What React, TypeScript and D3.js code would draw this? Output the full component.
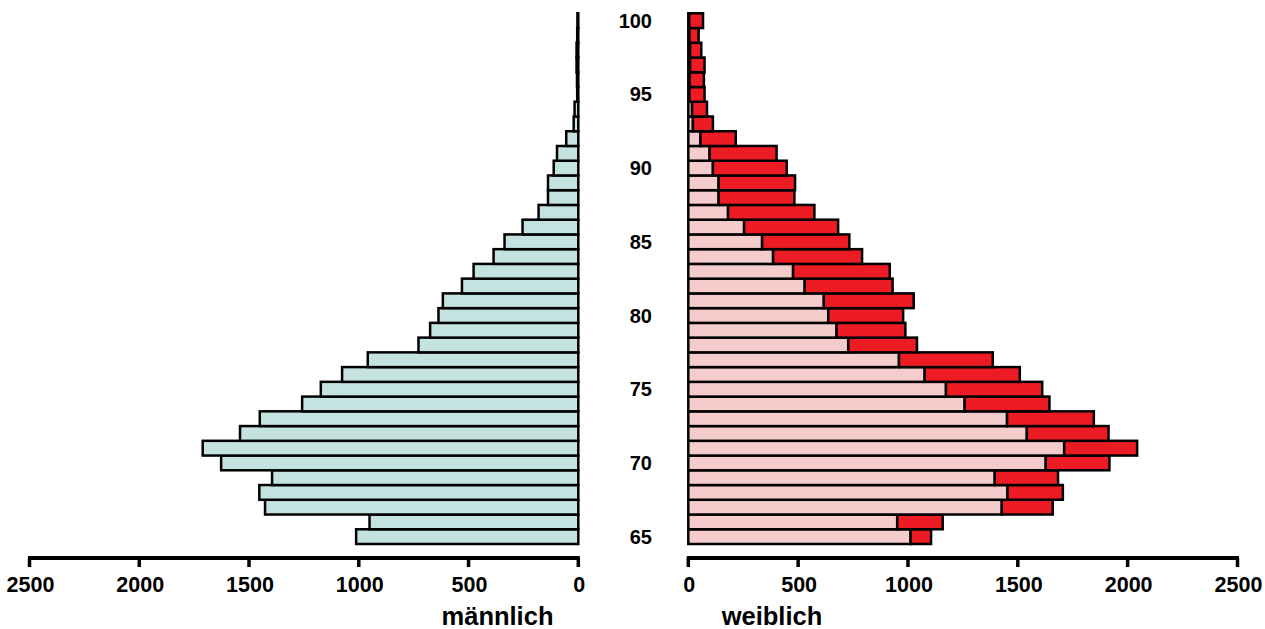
import React from "react";
import * as d3 from "d3";

const ages = [65, 66, 67, 68, 69, 70, 71, 72, 73, 74, 75, 76, 77, 78, 79, 80, 81, 82, 83, 84, 85, 86, 87, 88, 89, 90, 91, 92, 93, 94, 95, 96, 97, 98, 99, 100];
const male = [1012, 951, 1427, 1453, 1395, 1627, 1711, 1541, 1451, 1258, 1173, 1076, 959, 728, 675, 637, 617, 530, 477, 386, 336, 254, 181, 138, 138, 112, 97, 55, 21, 17, 5, 6, 8, 8, 5, 4];
const female = [1105, 1158, 1659, 1705, 1683, 1917, 2043, 1913, 1846, 1644, 1611, 1509, 1386, 1041, 988, 978, 1026, 930, 917, 791, 733, 682, 574, 483, 486, 448, 402, 216, 112, 85, 74, 71, 74, 59, 47, 67];
const ticks = [0, 500, 1000, 1500, 2000, 2500];
const ageLabels = [65, 70, 75, 80, 85, 90, 95, 100];

const MALE_FILL = "#c3e2e0";
const PINK_FILL = "#f4cccb";
const RED_FILL = "#ed1c24";
const FONT = "'Liberation Sans', Arial, sans-serif";

export default function App() {
  const W = 1265, H = 629;
  const y = d3.scaleBand<number>().domain([...ages].reverse()).range([13.3, 544]).padding(0);
  const xm = d3.scaleLinear().domain([0, 2500]).range([578.3, 29.5]);
  const xf = d3.scaleLinear().domain([0, 2500]).range([688.3, 1237.5]);
  const bw = y.bandwidth();
  const axisY = 558;
  const sw = 2.5;

  return (
    <svg width={W} height={H} style={{ position: "absolute", left: 0, top: 0, background: "#fff" }} fontFamily={FONT}>
      {/* male bars */}
      {ages.map((a, i) => (
        <rect key={"m" + a} x={xm(male[i])} y={y(a)!} width={xm(0) - xm(male[i])} height={bw}
          fill={MALE_FILL} stroke="#000" strokeWidth={sw} />
      ))}
      {/* female bars: part equal to male (pink) and excess (red) */}
      {ages.map((a, i) => {
        const base = Math.min(male[i], female[i]);
        return (
          <g key={"f" + a}>
            <rect x={xf(0)} y={y(a)!} width={xf(base) - xf(0)} height={bw}
              fill={PINK_FILL} stroke="#000" strokeWidth={sw} />
            <rect x={xf(base)} y={y(a)!} width={xf(female[i]) - xf(base)} height={bw}
              fill={RED_FILL} stroke="#000" strokeWidth={sw} />
          </g>
        );
      })}
      {/* age labels */}
      {ageLabels.map((a) => (
        <text key={"a" + a} x={652} y={y(a)! + bw / 2 + 7} textAnchor="end" fontSize={20} fontWeight="bold" fill="#000">
          {a}
        </text>
      ))}
      {/* axes */}
      <line x1={xm(2500) - 1.5} x2={xm(0) + 1.5} y1={axisY} y2={axisY} stroke="#000" strokeWidth={4} />
      <line x1={xf(0) - 1.5} x2={xf(2500) + 1.5} y1={axisY} y2={axisY} stroke="#000" strokeWidth={4} />
      {ticks.map((t) => (
        <g key={"t" + t}>
          <line x1={xm(t)} x2={xm(t)} y1={axisY} y2={axisY + 9} stroke="#000" strokeWidth={3.5} />
          <text x={xm(t) + 1} y={592} textAnchor="middle" fontSize={21.5} fontWeight="bold">{t}</text>
          <line x1={xf(t)} x2={xf(t)} y1={axisY} y2={axisY + 9} stroke="#000" strokeWidth={3.5} />
          <text x={xf(t) + 1} y={592} textAnchor="middle" fontSize={21.5} fontWeight="bold">{t}</text>
        </g>
      ))}
      <text x={497.5} y={625} textAnchor="middle" fontSize={25.5} fontWeight="bold">männlich</text>
      <text x={772} y={625} textAnchor="middle" fontSize={25.5} fontWeight="bold">weiblich</text>
    </svg>
  );
}
